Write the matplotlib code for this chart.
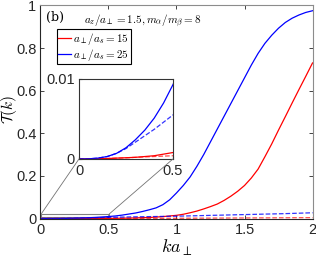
import matplotlib
matplotlib.use("Agg")
import matplotlib.pyplot as plt
from matplotlib.patches import Rectangle, ConnectionPatch

plt.rcParams["font.family"] = ["Liberation Sans", "DejaVu Sans"]
plt.rcParams["mathtext.fontset"] = "cm"

# values
k = [0, 0.05, 0.1, 0.15, 0.2, 0.25, 0.3, 0.35, 0.4, 0.45,
     0.5, 0.55, 0.6, 0.65, 0.7, 0.75, 0.8, 0.85, 0.9, 0.95,
     1.0, 1.05, 1.1, 1.15, 1.2, 1.25, 1.3, 1.35, 1.4, 1.45,
     1.5, 1.55, 1.6, 1.65, 1.7, 1.75, 1.8, 1.85, 1.9, 1.95, 2.0]
blue_solid = [0, 0.00001, 0.0001, 0.0003, 0.0007, 0.0014, 0.0024, 0.0036, 0.0051, 0.007,
              0.0093, 0.012, 0.016, 0.021, 0.026, 0.033, 0.041, 0.05, 0.065, 0.088,
              0.12, 0.155, 0.195, 0.245, 0.30, 0.36, 0.42, 0.48, 0.54, 0.60,
              0.66, 0.72, 0.775, 0.822, 0.86, 0.893, 0.92, 0.94, 0.955, 0.967, 0.975]
blue_dash = [0, 0.00001, 0.0001, 0.0003, 0.0007, 0.0013, 0.0021, 0.0029, 0.0037, 0.0046,
             0.0055, 0.0062, 0.0068, 0.0074, 0.008, 0.0085, 0.009, 0.0095, 0.010, 0.0105,
             0.011, 0.0118, 0.0125, 0.0132, 0.014, 0.0148, 0.0155, 0.0162, 0.017, 0.0178,
             0.0185, 0.0192, 0.020, 0.0208, 0.0215, 0.0222, 0.023, 0.024, 0.025, 0.026, 0.027]
red_solid = [0, 0, 0.00002, 0.00005, 0.0001, 0.00015, 0.0002, 0.0003, 0.0004, 0.0006,
             0.0008, 0.0011, 0.0016, 0.0022, 0.003, 0.004, 0.005, 0.0068, 0.009, 0.012,
             0.015, 0.02, 0.027, 0.035, 0.045, 0.056, 0.068, 0.085, 0.105, 0.128,
             0.155, 0.19, 0.232, 0.29, 0.35, 0.415, 0.478, 0.542, 0.605, 0.667, 0.73]
red_dash = [0, 0, 0.00002, 0.00005, 0.0001, 0.00014, 0.0002, 0.00025, 0.0003, 0.00035,
            0.0004, 0.00045, 0.0005, 0.00055, 0.0006, 0.0007, 0.0008, 0.0009, 0.001, 0.0011,
            0.0012, 0.00135, 0.0015, 0.00165, 0.0018, 0.00195, 0.0021, 0.00225, 0.0024, 0.00255,
            0.0027, 0.00285, 0.003, 0.00315, 0.0033, 0.00345, 0.0036, 0.00375, 0.0039, 0.00405, 0.0042]
labels = [r"$a_{\perp}/a_s=15$", r"$a_{\perp}/a_s=25$"]

fig = plt.figure(figsize=(3.16, 2.58), dpi=100)
ax = fig.add_axes([0.128, 0.153, 0.861, 0.826])

ax.plot(k, red_solid, color="red", lw=0.9, label=labels[0])
ax.plot(k, blue_solid, color="blue", lw=0.9, label=labels[1])
ax.plot(k, red_dash, color="red", lw=0.9, ls="--", alpha=0.7)
ax.plot(k, blue_dash, color="blue", lw=0.9, ls="--", alpha=0.8)

ax.set_xlim(0, 2)
ax.set_ylim(0, 1)
ax.set_xticks([0, 0.5, 1, 1.5, 2])
ax.set_xticklabels(["0", "0.5", "1", "1.5", "2"])
ax.set_yticks([0, 0.2, 0.4, 0.6, 0.8, 1])
ax.set_yticklabels(["0", "0.2", "0.4", "0.6", "0.8", "1"])
ax.tick_params(direction="in", top=True, right=True, labelsize=10.5, length=3,
               width=0.6, colors="0.15", pad=3)
for side in ["left", "bottom"]:
    ax.spines[side].set_color("0.15")
for side in ["top", "right"]:
    ax.spines[side].set_color("0.55")
for s in ax.spines.values():
    s.set_linewidth(0.8)

ax.set_xlabel(r"$ka_{\perp}$", fontsize=13, labelpad=1)
ax.set_ylabel(r"$\mathcal{T}(k)$", fontsize=11)
ax.yaxis.set_label_coords(-0.078, 0.51)

ax.text(0.02, 0.975, "(b)", transform=ax.transAxes, ha="left", va="top",
        fontsize=9, family="DejaVu Serif")
ax.text(0.16, 0.965, r"$a_z/a_{\perp}=1.5, m_{\alpha}/m_{\beta}=8$", transform=ax.transAxes,
        ha="left", va="top", fontsize=8)

leg = ax.legend(loc="upper left", bbox_to_anchor=(0.06, 0.89), fontsize=8,
                handlelength=1.1, handletextpad=0.25, borderpad=0.15, labelspacing=0.0,
                fancybox=False, framealpha=1, borderaxespad=0)
leg.get_frame().set_edgecolor("black")
leg.get_frame().set_linewidth(0.8)

# zoom window in main axes
ax.add_patch(Rectangle((0.005, 0.008), 0.5, 0.013, fill=False, ec="0.5", lw=0.8))

# inset
axin = fig.add_axes([0.25, 0.384, 0.2975, 0.31])
axin.plot(k, red_solid, color="red", lw=0.9)
axin.plot(k, blue_solid, color="blue", lw=0.9)
axin.plot(k, red_dash, color="red", lw=0.9, ls="--", alpha=0.7)
axin.plot(k, blue_dash, color="blue", lw=0.9, ls="--", alpha=0.8)
axin.set_xlim(0, 0.5)
axin.set_ylim(0, 0.01)
axin.set_xticks([0, 0.5])
axin.set_xticklabels(["0", "0.5"])
axin.set_yticks([0, 0.01])
axin.set_yticklabels(["0", "0.01"])
axin.tick_params(direction="in", length=2, labelsize=10.5, colors="0.15")
axin.tick_params(axis="x", pad=4)
axin.tick_params(axis="y", pad=3)
for s in axin.spines.values():
    s.set_color("0.2")
    s.set_linewidth(0.8)

for xa, xm in [(0, 0.005), (0.5, 0.505)]:
    con = ConnectionPatch(xyA=(xa, 0), coordsA=axin.transData,
                          xyB=(xm, 0.021), coordsB=ax.transData,
                          color="0.45", lw=0.6)
    fig.add_artist(con)

fig.savefig("out.png", dpi=100)
